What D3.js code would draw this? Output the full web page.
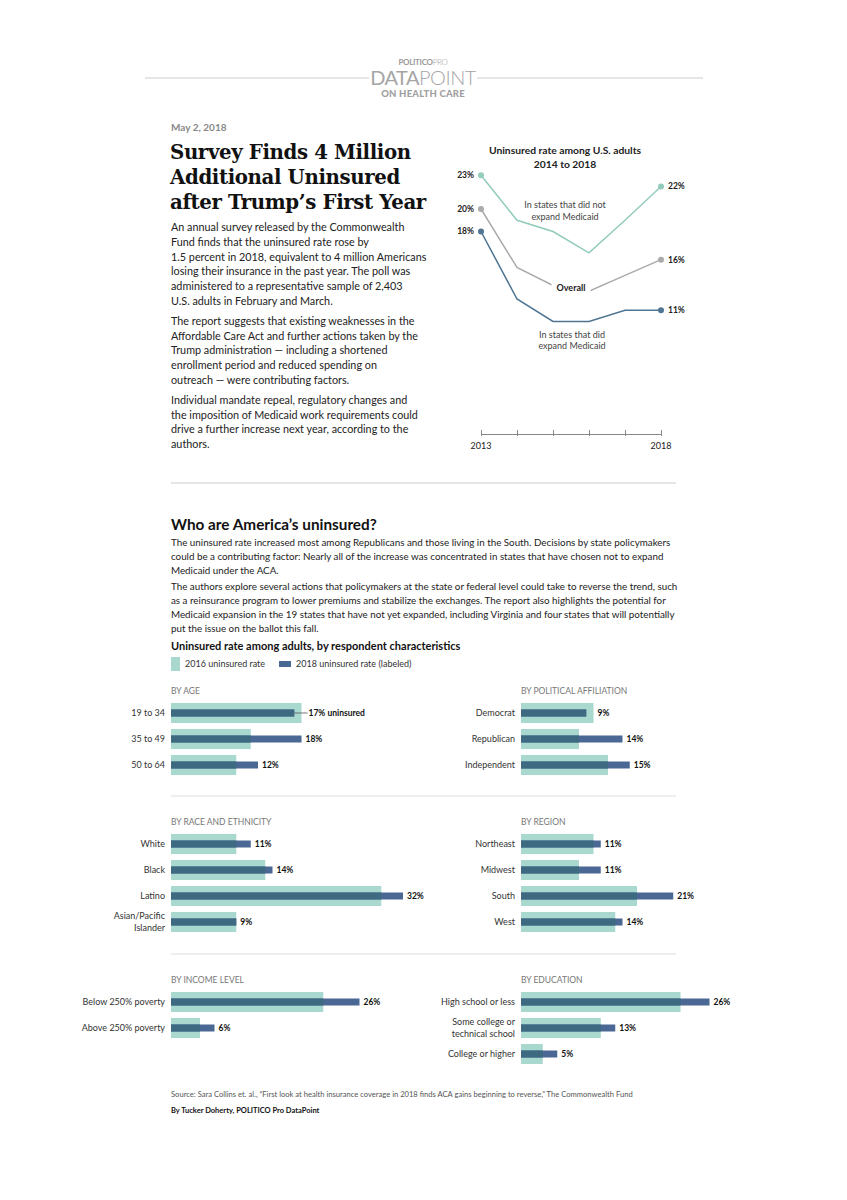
<!DOCTYPE html>
<html>
<head>
<meta charset="utf-8">
<script src="https://cdn.jsdelivr.net/npm/d3@7"></script>
<style>
  body { margin: 0; background: #fff; }
  svg { display: block; }
  text { font-family: Lato, "Open Sans", sans-serif; fill: #222; }
</style>
</head>
<body>
<svg width="847" height="1200"></svg>
<script>
// line chart data
const years = [2013, 2014, 2015, 2016, 2017, 2018];
const nonExpansion = [23, 19, 18, 16.1, 19, 22];
const overall = [20, 14.8, 13.2, 12.7, 14.1, 15.5];
const expansion = [18, 12, 10, 10, 11, 11];

// bar chart data
const ageLabels = ["19 to 34", "35 to 49", "50 to 64"];
const age2016 = [18, 11, 9];
const age2018 = [17, 18, 12];
const partyLabels = ["Democrat", "Republican", "Independent"];
const party2016 = [10, 8, 12];
const party2018 = [9, 14, 15];
const raceLabels = ["White", "Black", "Latino", "Asian/Pacific|Islander"];
const race2016 = [9, 13, 29, 9];
const race2018 = [11, 14, 32, 9];
const regionLabels = ["Northeast", "Midwest", "South", "West"];
const region2016 = [10, 8, 16, 13];
const region2018 = [11, 11, 21, 14];
const incomeLabels = ["Below 250% poverty", "Above 250% poverty"];
const income2016 = [21, 4];
const income2018 = [26, 6];
const eduLabels = ["High school or less", "Some college or|technical school", "College or higher"];
const edu2016 = [22, 11, 3];
const edu2018 = [26, 13, 5];

const intro = [
  ["An annual survey released by the Commonwealth",
   "Fund finds that the uninsured rate rose by",
   "1.5 percent in 2018, equivalent to 4 million Americans",
   "losing their insurance in the past year. The poll was",
   "administered to a representative sample of 2,403",
   "U.S. adults in February and March."],
  ["The report suggests that existing weaknesses in the",
   "Affordable Care Act and further actions taken by the",
   "Trump administration \u2014 including a shortened",
   "enrollment period and reduced spending on",
   "outreach \u2014 were contributing factors."],
  ["Individual mandate repeal, regulatory changes and",
   "the imposition of Medicaid work requirements could",
   "drive a further increase next year, according to the",
   "authors."]
];
const whoText = [
  ["The uninsured rate increased most among Republicans and those living in the South. Decisions by state policymakers",
   "could be a contributing factor: Nearly all of the increase was concentrated in states that have chosen not to expand",
   "Medicaid under the ACA."],
  ["The authors explore several actions that policymakers at the state or federal level could take to reverse the trend, such",
   "as a reinsurance program to lower premiums and stabilize the exchanges. The report also highlights the potential for",
   "Medicaid expansion in the 19 states that have not yet expanded, including Virginia and four states that will potentially",
   "put the issue on the ballot this fall."]
];

const svg = d3.select("svg");
const teal = "#a8d8ce";
const navy = "#4a6893";
const overlap = "#3d6a81";

//header
svg.append("line").attr("x1", 145).attr("x2", 369).attr("y1", 78).attr("y2", 78).attr("stroke", "#ccc");
svg.append("line").attr("x1", 477).attr("x2", 703).attr("y1", 78).attr("y2", 78).attr("stroke", "#ccc");
const logo = svg.append("text").attr("x", 423).attr("y", 65).attr("text-anchor", "middle")
  .attr("font-size", 8).style("fill", "#999").style("letter-spacing", "-0.3px");
logo.append("tspan").attr("font-weight", 700).text("POLITICO");
logo.append("tspan").attr("font-weight", 300).text("PRO");
const dp = svg.append("text").attr("x", 423).attr("y", 85).attr("text-anchor", "middle")
  .attr("font-size", 20).style("fill", "#a5a5a5").style("letter-spacing", "-0.5px");
dp.append("tspan").attr("font-weight", 400).text("DATA");
dp.append("tspan").attr("font-weight", 300).text("POINT");
svg.append("text").attr("x", 423).attr("y", 97).attr("text-anchor", "middle")
  .attr("font-size", 9.5).attr("font-weight", 900).style("fill", "#a0a0a0").style("letter-spacing", "0.2px")
  .text("ON HEALTH CARE");

svg.append("text").attr("x", 171).attr("y", 131).attr("font-size", 10).attr("font-weight", 700)
  .style("fill", "#888").text("May 2, 2018");

["Survey Finds 4 Million", "Additional Uninsured", "after Trump\u2019s First Year"].forEach((t, i) => {
  svg.append("text").attr("x", 170).attr("y", 159 + i * 25)
    .style("font-family", "'DejaVu Serif', serif").attr("font-weight", 700)
    .attr("font-size", 19.8).style("fill", "#111").style("letter-spacing", "-0.4px").text(t);
});

function paragraphs(paras, x, y0, lh, gap, size) {
  let y = y0;
  paras.forEach(p => {
    p.forEach(line => {
      svg.append("text").attr("x", x).attr("y", y).attr("font-size", size).text(line);
      y += lh;
    });
    y += gap;
  });
}
paragraphs(intro, 171, 231, 14.8, 5, 10.8);

// line chart
(function drawLines() {
  const x = d3.scaleLinear().domain([2013, 2018]).range([481, 661]);
  const y = d3.scaleLinear().domain([0, 23]).range([434, 175.25]);
  const g = svg.append("g");

  g.append("text").attr("x", 565).attr("y", 154).attr("text-anchor", "middle")
    .attr("font-size", 10.3).attr("font-weight", 700).text("Uninsured rate among U.S. adults");
  g.append("text").attr("x", 565).attr("y", 168).attr("text-anchor", "middle")
    .attr("font-size", 10.3).attr("font-weight", 700).text("2014 to 2018");

  const axis = g.append("g").attr("transform", `translate(0,${y(0)})`)
    .call(d3.axisBottom(x).tickValues(years).tickSize(-4).tickFormat(""));
  axis.select(".domain").attr("stroke", "#888");
  axis.selectAll(".tick line").attr("stroke", "#888").attr("y2", -4).attr("y1", 2);
  g.append("text").attr("x", x(2013)).attr("y", y(0) + 15).attr("text-anchor", "middle").attr("font-size", 9).text("2013");
  g.append("text").attr("x", x(2018)).attr("y", y(0) + 15).attr("text-anchor", "middle").attr("font-size", 9).text("2018");

  const line = d3.line().x((d, i) => x(years[i])).y(d => y(d));
  const series = [
    { vals: nonExpansion, color: "#93cbbd" },
    { vals: overall, color: "#aaaaaa" },
    { vals: expansion, color: "#4f7592" }
  ];
  series.forEach(s => {
    g.append("path").datum(s.vals).attr("d", line).attr("fill", "none")
      .attr("stroke", s.color).attr("stroke-width", 1.5);
  });

  // overall label with white knockout
  const ov = g.append("text").attr("x", 571).attr("y", 291).attr("text-anchor", "middle")
    .attr("font-size", 9).attr("font-weight", 700).text("Overall");
  const bb = ov.node().getBBox();
  g.append("rect").attr("x", bb.x - 5).attr("y", bb.y - 2)
    .attr("width", bb.width + 10).attr("height", bb.height + 4).attr("fill", "#fff");
  ov.raise();

  series.forEach(s => {
    const last = s.vals.length - 1;
    g.append("circle").attr("cx", x(years[0])).attr("cy", y(s.vals[0])).attr("r", 3).attr("fill", s.color);
    g.append("circle").attr("cx", x(years[last])).attr("cy", y(s.vals[last])).attr("r", 3).attr("fill", s.color);
    g.append("text").attr("x", x(years[0]) - 7).attr("y", y(s.vals[0])).attr("dy", "0.35em")
      .attr("text-anchor", "end").attr("font-size", 8.5).attr("font-weight", 700)
      .text(Math.round(s.vals[0]) + "%");
    g.append("text").attr("x", x(years[last]) + 7).attr("y", y(s.vals[last])).attr("dy", "0.35em")
      .attr("font-size", 8.5).attr("font-weight", 700)
      .text(Math.round(s.vals[last]) + "%");
  });

  [["In states that did not", 208], ["expand Medicaid", 220]].forEach(([t, yy]) =>
    g.append("text").attr("x", 565).attr("y", yy).attr("text-anchor", "middle").attr("font-size", 9).style("fill", "#444").text(t));
  [["In states that did", 338], ["expand Medicaid", 349]].forEach(([t, yy]) =>
    g.append("text").attr("x", 572).attr("y", yy).attr("text-anchor", "middle").attr("font-size", 9).style("fill", "#444").text(t));
})();

svg.append("line").attr("x1", 171).attr("x2", 676).attr("y1", 483).attr("y2", 483).attr("stroke", "#ccc");

svg.append("text").attr("x", 171).attr("y", 530).attr("font-size", 15.3).attr("font-weight", 700)
  .style("fill", "#111").text("Who are America\u2019s uninsured?");
paragraphs(whoText, 171, 546, 13.8, 3, 9.8);

svg.append("text").attr("x", 171).attr("y", 650).attr("font-size", 11).attr("font-weight", 700)
  .style("fill", "#111").text("Uninsured rate among adults, by respondent characteristics");
svg.append("rect").attr("x", 171).attr("y", 657).attr("width", 9).attr("height", 14).attr("fill", teal);
svg.append("text").attr("x", 185).attr("y", 667).attr("font-size", 9).style("fill", "#333").text("2016 uninsured rate");
svg.append("rect").attr("x", 279).attr("y", 661).attr("width", 12).attr("height", 6).attr("fill", navy);
svg.append("text").attr("x", 296).attr("y", 667).attr("font-size", 9).style("fill", "#333").text("2018 uninsured rate (labeled)");

// bar panels
const xBar = d3.scaleLinear().domain([0, 32]).range([0, 232]);
const panels = [
  { title: "BY AGE", labels: ageLabels, a: age2016, b: age2018, x0: 171, top: 690 },
  { title: "BY POLITICAL AFFILIATION", labels: partyLabels, a: party2016, b: party2018, x0: 521, top: 690 },
  { title: "BY RACE AND ETHNICITY", labels: raceLabels, a: race2016, b: race2018, x0: 171, top: 821 },
  { title: "BY REGION", labels: regionLabels, a: region2016, b: region2018, x0: 521, top: 821 },
  { title: "BY INCOME LEVEL", labels: incomeLabels, a: income2016, b: income2018, x0: 171, top: 979 },
  { title: "BY EDUCATION", labels: eduLabels, a: edu2016, b: edu2018, x0: 521, top: 979 }
];

panels.forEach((p, pi) => {
  const g = svg.append("g").attr("transform", `translate(${p.x0},${p.top})`);
  g.append("text").attr("x", 0).attr("y", 3.5).attr("font-size", 8.5).style("fill", "#777").text(p.title);
  const y = d3.scaleBand().domain(p.labels).range([10, 10 + 26 * p.labels.length]).paddingInner(0.23).paddingOuter(0.115);
  const rows = g.selectAll("g.row").data(p.labels).join("g").attr("class", "row")
    .attr("transform", d => `translate(0,${y(d)})`);
  const bw = y.bandwidth();
  rows.append("rect").attr("width", (d, i) => xBar(p.a[i])).attr("height", bw).attr("fill", teal);
  rows.append("rect").attr("y", bw / 2 - 3.5).attr("width", (d, i) => xBar(p.b[i])).attr("height", 7).attr("fill", navy);
  rows.append("rect").attr("y", bw / 2 - 3.5).attr("width", (d, i) => xBar(Math.min(p.a[i], p.b[i]))).attr("height", 7).attr("fill", overlap);
  rows.each(function(d, i) {
    const r = d3.select(this);
    const parts = d.split("|");
    parts.forEach((t, k) => {
      r.append("text").attr("x", -6).attr("y", bw / 2 + (k - (parts.length - 1) / 2) * 12)
        .attr("dy", "0.35em").attr("text-anchor", "end").attr("font-size", 9).style("fill", "#333").text(t);
    });
    const end = xBar(Math.max(p.a[i], p.b[i]));
    const first = pi === 0 && i === 0;
    const lx = first ? end + 7 : end + 4;
    if (first) {
      r.append("line").attr("x1", xBar(p.b[i])).attr("x2", lx - 1).attr("y1", bw / 2).attr("y2", bw / 2)
        .attr("stroke", "#555").attr("stroke-width", 0.8);
    }
    r.append("text").attr("x", lx).attr("y", bw / 2).attr("dy", "0.35em")
      .attr("font-size", 8.5).attr("font-weight", 700).style("fill", "#111")
      .text(p.b[i] + "%" + (first ? " uninsured" : ""));
  });
});

svg.append("line").attr("x1", 171).attr("x2", 676).attr("y1", 796).attr("y2", 796).attr("stroke", "#ddd");
svg.append("line").attr("x1", 171).attr("x2", 676).attr("y1", 954).attr("y2", 954).attr("stroke", "#ddd");

svg.append("text").attr("x", 171).attr("y", 1097).attr("font-size", 7.6).style("fill", "#555")
  .text("Source: Sara Collins et. al., \u201cFirst look at health insurance coverage in 2018 finds ACA gains beginning to reverse,\u201d The Commonwealth Fund");
svg.append("text").attr("x", 171).attr("y", 1113).attr("font-size", 7.5).attr("font-weight", 700).style("fill", "#111")
  .text("By Tucker Doherty, POLITICO Pro DataPoint");
</script>
</body>
</html>
